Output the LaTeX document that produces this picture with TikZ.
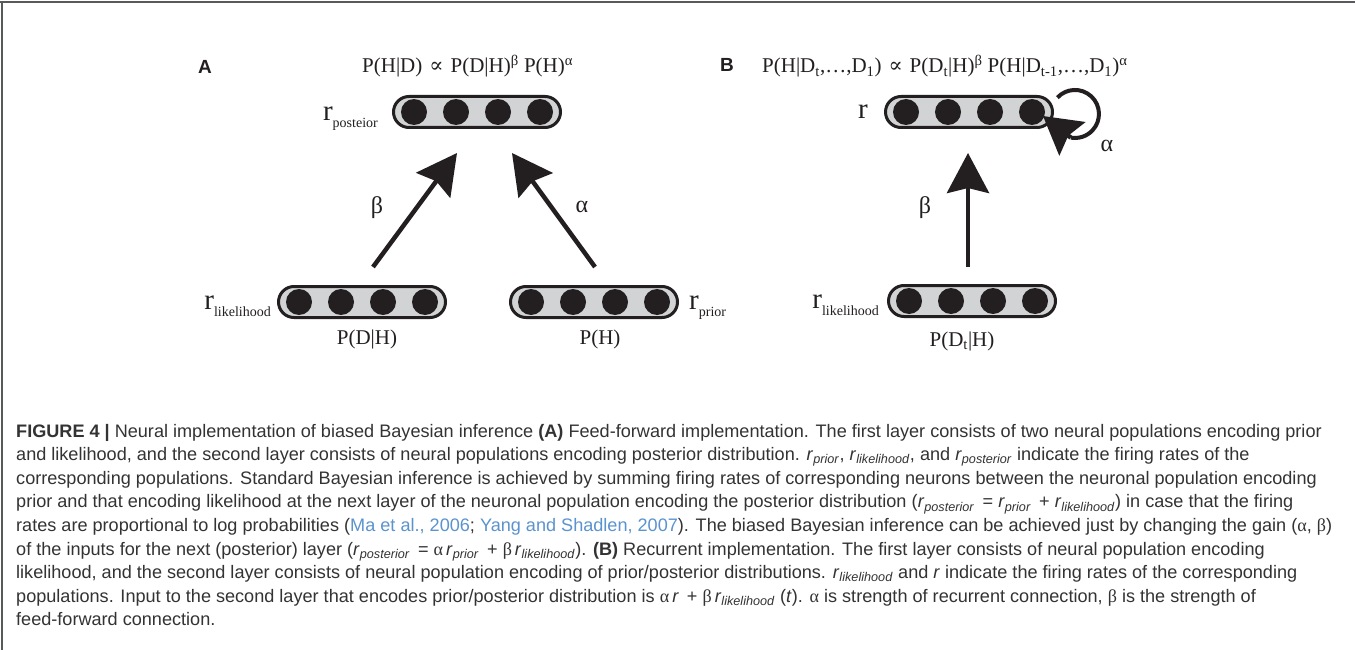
\documentclass[tikz,border=0pt]{standalone}
\usepackage{fontspec}
\setmainfont{Liberation Serif}
\newfontfamily\capfont{Liberation Sans}
\newfontfamily\symfont{DejaVu Serif}
\usetikzlibrary{arrows.meta}
\definecolor{boxgray}{HTML}{D1D3D4}
\definecolor{ink}{HTML}{231F20}
\definecolor{captext}{HTML}{333333}
\definecolor{citeblue}{HTML}{5B93CF}
\definecolor{framegray}{HTML}{58595B}
\newcommand\popu[3]{%
  \node[popbox] (#1) at (#2,#3) {};
  \foreach \dx [count=\i] in {-63,-21,21,63} \node[neuron] (#1n\i) at (#2+\dx,#3) {};
}
\newcommand\rlab[1]{r\raisebox{-7pt}{\fontsize{14}{14}\selectfont #1}}
\newcommand\ri[1]{\textit{r}\textsubscript{\textit{#1}}}
\newcommand\gr[1]{{\rmfamily #1}}
\newcommand\prop{\hspace{7pt}{\symfont ∝}\hspace{7pt}}
\begin{document}
\begin{tikzpicture}[x=1pt,y=-1pt,
  popbox/.style={draw=ink, line width=3pt, fill=boxgray, rounded corners=15.5pt, minimum width=167pt, minimum height=31pt, inner sep=0pt},
  neuron/.style={circle, fill=ink, minimum size=26pt, inner sep=0pt},
  bigarrow/.style={draw=ink, line width=4.5pt, -{Stealth[length=40pt,width=42pt,inset=5pt]}},
  loopline/.style={draw=ink, line width=4pt},
  formula/.style={font=\fontsize{21}{25}\selectfont, inner sep=0pt, text=ink},
  rname/.style={font=\fontsize{29}{30}\selectfont, inner sep=0pt, text=ink},
  greek/.style={font=\fontsize{24}{26}\selectfont, inner sep=0pt, text=ink},
  panel/.style={font=\capfont\bfseries\fontsize{19}{22}\selectfont, inner sep=0pt, text=ink},
  capline/.style={font=\capfont\fontsize{18.1}{21}\selectfont, inner sep=0pt, text=captext, anchor=base west}
]
\useasboundingbox (0,0) rectangle (1355,650);
\fill[white] (0,0) rectangle (1355,650);
\draw[framegray, line width=2pt] (0,2.5) -- (1355,2.5);
\draw[framegray, line width=1.5pt] (2,1.5) -- (2,650);

% ---------- Panel A ----------
\node[panel] (labA) at (205,67) {A};
\node[formula, anchor=base west] (fA) at (362,73) {P(H|D)\prop{}P(D|H)\textsuperscript{β} P(H)\textsuperscript{α}};
\popu{pApost}{477}{112}
\popu{pAlik}{362}{302}
\popu{pAprior}{594}{302}
\node[rname, anchor=base east] (rApost) at (378,121) {\rlab{posteior}};
\node[rname, anchor=base east] (rAlik) at (271,309) {\rlab{likelihood}};
\node[rname, anchor=base west] (rAprior) at (689,309) {\rlab{prior}};
\node[formula] (tAlik) at (367,339) {P(D|H)};
\node[formula] (tAprior) at (600,339) {P(H)};
\coordinate (bA0) at (373,267);
\coordinate (bA1) at (457,153);
\coordinate (aA0) at (595,267);
\coordinate (aA1) at (512,153);
\draw[bigarrow] (bA0) -- (bA1);
\draw[bigarrow] (aA0) -- (aA1);
\node[greek] (betaA) at (377,208) {β};
\node[greek] (alphaA) at (582,207) {α};

% ---------- Panel B ----------
\node[panel] (labB) at (727,65) {B};
\node[formula, anchor=base west] (fB) at (762,73) {P(H|D\textsubscript{t},…,D\textsubscript{1})\prop{}P(D\textsubscript{t}|H)\textsuperscript{β} P(H|D\textsubscript{t-1},…,D\textsubscript{1})\textsuperscript{α}};
\popu{pBr}{969}{112}
\popu{pBlik}{972}{301}
\node[rname, anchor=base east] (rBr) at (868,119) {r};
\node[rname, anchor=base east] (rBlik) at (879,308) {\rlab{likelihood}};
\node[formula] (tBlik) at (962,341) {P(D\textsubscript{t}|H)};
\coordinate (bB0) at (968,267);
\coordinate (bB1) at (968,153);
\draw[bigarrow] (bB0) -- (bB1);
\node[greek] (betaB) at (925,208) {β};
\coordinate (loopS) at (1057.4,97.6);
\coordinate (loopT) at (1043,116);
\draw[loopline] (loopS) arc[start angle=-137, end angle=100, radius=24] coordinate (loopE);
\draw[bigarrow, -{Stealth[length=37pt,width=42pt,inset=5pt]}] (loopE) -- (loopT);
\node[greek] (alphaB) at (1107,146) {α};

% ---------- Caption ----------
\node[capline] (c1) at (16,437) {\textbf{FIGURE 4 |} Neural implementation of biased Bayesian inference \textbf{(A)} Feed-forward implementation. The first layer consists of two neural populations encoding prior};
\node[capline] (c2) at (16,460.6) {and likelihood, and the second layer consists of neural populations encoding posterior distribution. \ri{prior}, \ri{likelihood}, and \ri{posterior} indicate the firing rates of the};
\node[capline] (c3) at (16,484.2) {corresponding populations. Standard Bayesian inference is achieved by summing firing rates of corresponding neurons between the neuronal population encoding};
\node[capline] (c4) at (16,507.8) {prior and that encoding likelihood at the next layer of the neuronal population encoding the posterior distribution (\ri{posterior}\,\ =\ \ri{prior}\,\ +\ \ri{likelihood}) in case that the firing};
\node[capline] (c5) at (16,531.4) {rates are proportional to log probabilities (\textcolor{citeblue}{Ma et al., 2006}; \textcolor{citeblue}{Yang and Shadlen, 2007}). The biased Bayesian inference can be achieved just by changing the gain (\gr{α}, \gr{β})};
\node[capline] (c6) at (16,555) {of the inputs for the next (posterior) layer (\ri{posterior}\,\ =\ \gr{α}\,\ri{prior}\,\ +\ \gr{β}\,\ri{likelihood}). \textbf{(B)} Recurrent implementation. The first layer consists of neural population encoding};
\node[capline] (c7) at (16,578.6) {likelihood, and the second layer consists of neural population encoding of prior/posterior distributions. \ri{likelihood} and \textit{r} indicate the firing rates of the corresponding};
\node[capline] (c8) at (16,602.2) {populations. Input to the second layer that encodes prior/posterior distribution is \gr{α}\,\textit{r}\,\ +\ \gr{β}\,\ri{likelihood} (\textit{t}). \gr{α} is strength of recurrent connection, \gr{β} is the strength of};
\node[capline] (c9) at (16,625.8) {feed-forward connection.};
\end{tikzpicture}
\end{document}
